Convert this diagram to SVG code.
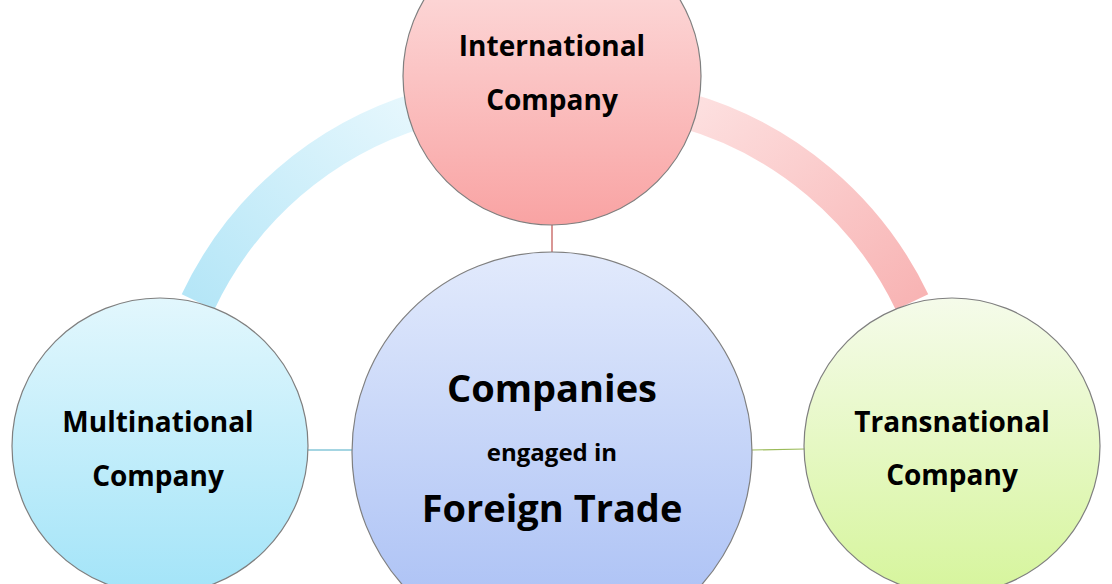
<svg xmlns="http://www.w3.org/2000/svg" width="1112" height="584" viewBox="0 0 1112 584">
<defs>
<linearGradient id="gTop" x1="0" y1="0" x2="0" y2="1"><stop offset="0" stop-color="#fde4e4"/><stop offset="1" stop-color="#f9a3a3"/></linearGradient>
<linearGradient id="gCen" x1="0" y1="0" x2="0" y2="1"><stop offset="0" stop-color="#e2eafc"/><stop offset="1" stop-color="#a6bdf4"/></linearGradient>
<linearGradient id="gL" x1="0" y1="0" x2="0" y2="1"><stop offset="0" stop-color="#e2f7fd"/><stop offset="1" stop-color="#a3e4f8"/></linearGradient>
<linearGradient id="gR" x1="0" y1="0" x2="0" y2="1"><stop offset="0" stop-color="#f5fbea"/><stop offset="1" stop-color="#d6f59c"/></linearGradient>
<linearGradient id="aL" x1="0" y1="1" x2="1" y2="0"><stop offset="0" stop-color="#b5e6f7"/><stop offset="1" stop-color="#e6f7fd"/></linearGradient>
<linearGradient id="aR" x1="0" y1="0" x2="1" y2="1"><stop offset="0" stop-color="#fde0e0"/><stop offset="1" stop-color="#f8b4b4"/></linearGradient>
</defs>
<style>
.n{stroke:#7f7f7f;stroke-width:1.2}
text{font-family:"Open Sans","Liberation Sans",sans-serif;font-weight:bold;fill:#000;text-anchor:middle}
</style>
<rect width="1112" height="584" fill="#fff"/>
<g id="connectors">
<path d="M198,302 A362,362 0 0 1 420,110" fill="none" stroke="url(#aL)" stroke-width="36"/>
<path d="M684,110 A362,362 0 0 1 912,302" fill="none" stroke="url(#aR)" stroke-width="36"/>
<line x1="552" y1="224" x2="552" y2="252" stroke="#c0504d" stroke-width="1.2"/>
<line x1="308" y1="450" x2="352" y2="450" stroke="#4bacc6" stroke-width="1.2"/>
<line x1="752" y1="450" x2="805" y2="449" stroke="#9bbb59" stroke-width="1.2"/>
</g>
<g id="center"><circle class="n" cx="552" cy="452" r="200" fill="url(#gCen)"/>
<text x="552" y="402" font-size="38">Companies</text>
<text x="552" y="461" font-size="24">engaged in</text>
<text x="552" y="522" font-size="38">Foreign Trade</text></g>
<g id="top"><circle class="n" cx="552" cy="76" r="149" fill="url(#gTop)"/>
<text x="552" y="56" font-size="28">International</text>
<text x="552" y="110" font-size="28">Company</text></g>
<g id="left"><circle class="n" cx="160" cy="446" r="148" fill="url(#gL)"/>
<text x="158" y="432" font-size="28">Multinational</text>
<text x="158" y="486" font-size="28">Company</text></g>
<g id="right"><circle class="n" cx="952" cy="446" r="148" fill="url(#gR)"/>
<text x="952" y="432" font-size="28">Transnational</text>
<text x="952" y="485" font-size="28">Company</text></g>
</svg>
